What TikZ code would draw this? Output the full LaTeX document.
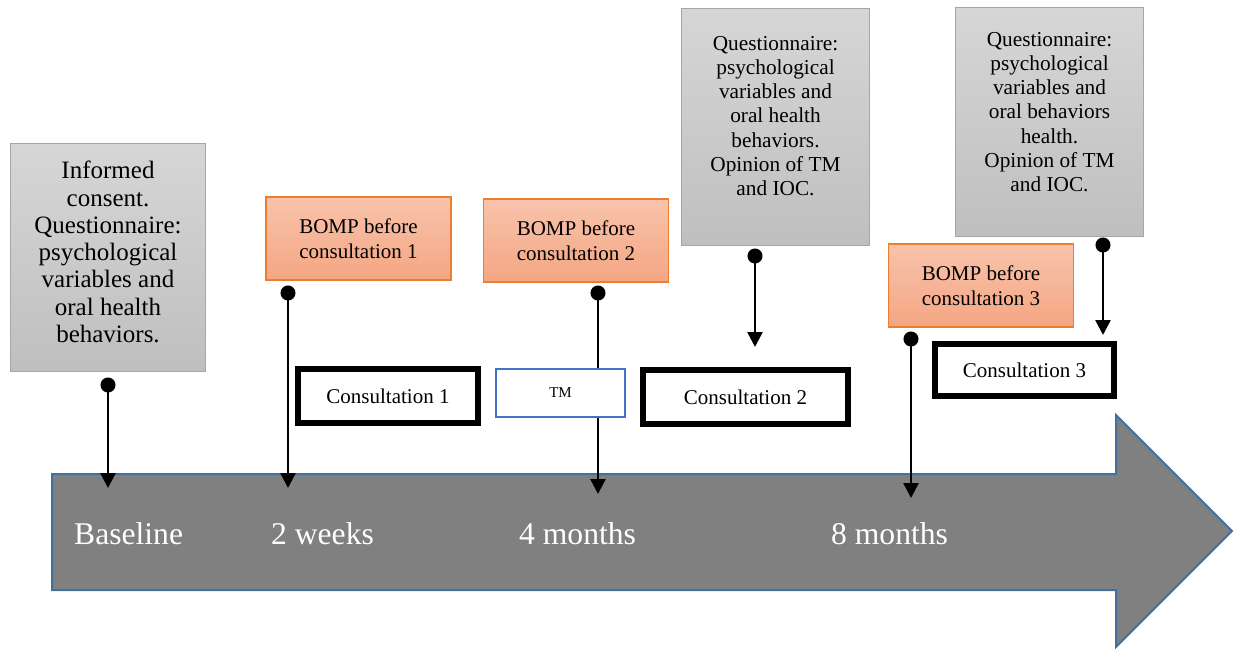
\documentclass[tikz,border=0pt]{standalone}
\usepackage{fontspec}
\setmainfont{Liberation Serif}
\usetikzlibrary{arrows.meta}

\definecolor{axisfill}{HTML}{808080}
\definecolor{axisedge}{HTML}{41719C}
\definecolor{greytop}{HTML}{D6D6D6}
\definecolor{greybot}{HTML}{BFBFBF}
\definecolor{greyedge}{HTML}{A6A6A6}
\definecolor{orangetop}{HTML}{F8C3AB}
\definecolor{orangebot}{HTML}{F4A683}
\definecolor{orangeedge}{HTML}{ED7D31}
\definecolor{tmedge}{HTML}{4472C4}

\begin{document}
\begin{tikzpicture}[x=1pt,y=-1pt,
  greybox/.style={draw=greyedge, line width=1pt, top color=greytop, bottom color=greybot,
    inner sep=0pt, outer sep=0pt},
  greytext/.style={align=center, inner sep=0pt},
  bigtext/.style={font=\fontsize{25}{27.3}\selectfont},
  midtext/.style={font=\fontsize{21.3}{24.2}\selectfont},
  bompbox/.style={draw=orangeedge, line width=1.2pt, top color=orangetop, bottom color=orangebot,
    minimum width=185pt, minimum height=83pt, inner sep=0pt, outer sep=0pt, align=center,
    font=\fontsize{21}{24.5}\selectfont},
  visitbox/.style={draw=black, line width=6pt, fill=white, inner sep=0pt, outer sep=0pt,
    minimum height=54pt, font=\fontsize{21}{24}\selectfont},
  tmbox/.style={draw=tmedge, line width=2pt, fill=white, inner sep=0pt, outer sep=0pt,
    minimum width=129pt, minimum height=48pt, font=\fontsize{15}{18}\selectfont},
  timelabel/.style={anchor=base west, inner sep=0pt, text=white, font=\fontsize{31.6}{36}\selectfont},
  conn/.style={line width=2.5pt, {Circle[length=15pt]}-{Triangle[width=15pt,length=15pt]}}
]
\useasboundingbox (0,0) rectangle (1234,648);

% time axis arrow
\draw[fill=axisfill, draw=axisedge, line width=2pt]
  (52,474) -- (1116,474) -- (1116,415) -- (1232,531) -- (1116,647) -- (1116,590) -- (52,590) -- cycle;

\node[timelabel] (tBase) at (74,544) {Baseline};
\node[timelabel] (t2w) at (271,544) {2 weeks};
\node[timelabel] (t4m) at (519,544) {4 months};
\node[timelabel] (t8m) at (831,544) {8 months};

% connector end points
\coordinate (s1) at (108,377.5);   \coordinate (e1) at (108,488);
\coordinate (s2) at (288,285.5);   \coordinate (e2) at (288,488);
\coordinate (s3) at (598,285.5);   \coordinate (e3) at (598,494);
\coordinate (s4) at (755,248.5);   \coordinate (e4) at (755,347);
\coordinate (s5) at (911,331.5);   \coordinate (e5) at (911,498);
\coordinate (s6) at (1103,237.5);  \coordinate (e6) at (1103,335);

\draw[conn] (s1) -- (e1);
\draw[conn] (s2) -- (e2);
\draw[conn] (s3) -- (e3);
\draw[conn] (s4) -- (e4);
\draw[conn] (s5) -- (e5);
\draw[conn] (s6) -- (e6);

% questionnaire boxes
\node[greybox, minimum width=195pt, minimum height=228pt] (g1) at (108,257.5) {};
\node[greytext, bigtext] (g1t) at (108,252)
  {Informed\\consent.\\Questionnaire:\\psychological\\variables and\\oral health\\behaviors.};

\node[greybox, minimum width=188pt, minimum height=237pt] (g2) at (775.5,127) {};
\node[greytext, midtext] (g2t) at (775.5,116)
  {Questionnaire:\\psychological\\variables and\\oral health\\behaviors.\\Opinion of TM\\and IOC.};

\node[greybox, minimum width=188pt, minimum height=229pt] (g3) at (1049.5,122) {};
\node[greytext, midtext] (g3t) at (1049.5,112)
  {Questionnaire:\\psychological\\variables and\\oral behaviors\\health.\\Opinion of TM\\and IOC.};

% BOMP boxes
\node[bompbox] (b1) at (358.5,238.5) {BOMP before\\consultation 1};
\node[bompbox] (b2) at (576,240.5) {BOMP before\\consultation 2};
\node[bompbox] (b3) at (981,285.5) {BOMP before\\consultation 3};

% consultations
\node[visitbox, minimum width=180pt] (c1) at (388,396) {Consultation 1};
\node[tmbox] (tm) at (560.5,393) {TM};
\node[visitbox, minimum width=205pt] (c2) at (745.5,397) {Consultation 2};
\node[visitbox, minimum width=179pt, minimum height=52pt] (c3) at (1024.5,370) {Consultation 3};

\end{tikzpicture}
\end{document}
